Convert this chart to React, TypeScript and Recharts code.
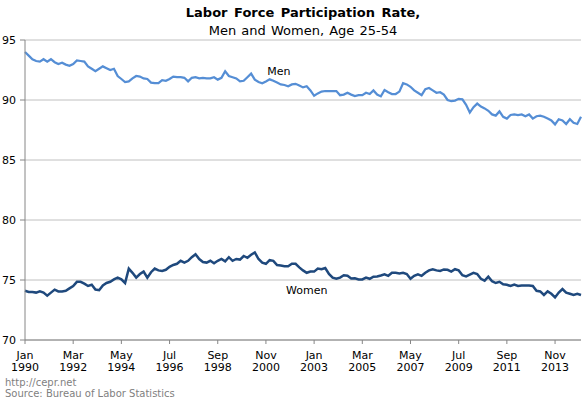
import { LineChart, Line, XAxis, YAxis, CartesianGrid, ReferenceDot } from 'recharts';

// bimonthly readings, Jan 1990 .. Jan 2015 (step = 2 months)
const men = [
  94.0, 93.7, 93.4, 93.25, 93.2, 93.4, 93.2, 93.4, 93.15, 93.0,
  93.1, 92.95, 92.85, 93.0, 93.3, 93.25, 93.2, 92.8, 92.6, 92.4,
  92.6, 92.8, 92.65, 92.5, 92.6, 92.0, 91.75, 91.5, 91.55, 91.8,
  92.0, 91.95, 91.8, 91.75, 91.45, 91.4, 91.4, 91.65, 91.6, 91.75,
  91.95, 91.9, 91.9, 91.85, 91.55, 91.85, 91.9, 91.8, 91.85, 91.8,
  91.8, 91.9, 91.7, 91.85, 92.4, 92.0, 91.9, 91.8, 91.55, 91.6,
  91.9, 92.2, 91.7, 91.5, 91.4, 91.55, 91.72, 91.6, 91.45, 91.3,
  91.25, 91.15, 91.3, 91.35, 91.2, 91.05, 91.15, 90.8, 90.35, 90.55,
  90.7, 90.75, 90.75, 90.75, 90.75, 90.4, 90.45, 90.6, 90.45, 90.33,
  90.4, 90.4, 90.6, 90.5, 90.8, 90.45, 90.3, 90.83, 90.65, 90.5,
  90.5, 90.7, 91.4, 91.3, 91.1, 90.8, 90.6, 90.4, 90.9, 91.0,
  90.8, 90.6, 90.65, 90.45, 90.0, 89.9, 89.95, 90.1, 90.05, 89.6,
  88.95, 89.4, 89.7, 89.45, 89.3, 89.1, 88.8, 88.7, 89.05, 88.6,
  88.45, 88.75, 88.8, 88.75, 88.8, 88.65, 88.8, 88.45, 88.65, 88.7,
  88.6, 88.45, 88.3, 87.97, 88.4, 88.3, 88.0, 88.4, 88.1, 88.0,
  88.6,
];

const women = [
  74.1, 74.0, 74.0, 73.95, 74.05, 73.95, 73.7, 73.95, 74.2, 74.05,
  74.05, 74.1, 74.3, 74.5, 74.85, 74.85, 74.7, 74.5, 74.6, 74.2,
  74.15, 74.55, 74.75, 74.85, 75.05, 75.2, 75.05, 74.75, 75.95, 75.6,
  75.2, 75.5, 75.7, 75.2, 75.65, 75.95, 75.8, 75.75, 75.85, 76.1,
  76.25, 76.35, 76.6, 76.45, 76.6, 76.9, 77.15, 76.75, 76.5, 76.45,
  76.6, 76.4, 76.6, 76.75, 76.55, 76.9, 76.6, 76.75, 76.7, 77.0,
  76.85, 77.1, 77.3, 76.75, 76.45, 76.35, 76.65, 76.6, 76.25, 76.2,
  76.15, 76.15, 76.35, 76.35, 76.05, 75.8, 75.6, 75.7, 75.7, 75.95,
  75.9, 76.0, 75.5, 75.2, 75.1, 75.2, 75.4, 75.35, 75.12, 75.15,
  75.05, 75.05, 75.2, 75.1, 75.28, 75.3, 75.38, 75.48, 75.35, 75.6,
  75.6, 75.55, 75.6, 75.5, 75.1, 75.35, 75.48, 75.35, 75.6, 75.8,
  75.9, 75.8, 75.75, 75.88, 75.85, 75.7, 75.9, 75.8, 75.4, 75.3,
  75.45, 75.6, 75.5, 75.1, 74.95, 75.28, 74.9, 74.75, 74.85, 74.65,
  74.6, 74.5, 74.62, 74.5, 74.55, 74.55, 74.55, 74.5, 74.1, 74.05,
  73.75, 74.05, 73.85, 73.55, 73.95, 74.25, 73.95, 73.85, 73.75, 73.85,
  73.75,
];

const tickMonths = ['Jan', 'Mar', 'May', 'Jul', 'Sep', 'Nov', 'Jan', 'Mar', 'May', 'Jul', 'Sep', 'Nov'];
const tickYears = ['1990', '1992', '1994', '1996', '1998', '2000', '2003', '2005', '2007', '2009', '2011', '2013'];
const xTicks = tickMonths.map((_, i) => i * 26);
const yTicks = [70, 75, 80, 85, 90, 95];

const data = men.map((m, i) => ({ month: i * 2, men: m, women: women[i] }));

const FONT = '"DejaVu Sans", Verdana, sans-serif';

const MonthTick = ({ x, y, payload }: any) => {
  const i = xTicks.indexOf(payload.value);
  return (
    <text x={x} y={y} textAnchor="middle" fontSize={11} fill="#000" fontFamily={FONT}>
      <tspan x={x} dy={13}>{tickMonths[i]}</tspan>
      <tspan x={x} dy={12}>{tickYears[i]}</tspan>
    </text>
  );
};

export default function App() {
  return (
    <div style={{ position: 'absolute', left: 0, top: 0, width: 588, height: 402, background: '#fff', fontFamily: FONT }}>
      <div style={{ position: 'absolute', left: 25, width: 556, top: 5, textAlign: 'center', fontSize: 13, fontWeight: 'bold', lineHeight: '16px', wordSpacing: 2 }}>
        Labor Force Participation Rate,
      </div>
      <div style={{ position: 'absolute', left: 25, width: 556, top: 23, textAlign: 'center', fontSize: 13, lineHeight: '16px', wordSpacing: 1 }}>
        Men and Women, Age 25-54
      </div>
      <LineChart width={588} height={402} data={data} margin={{ top: 40, right: 7, bottom: 22, left: 0 }}>
        <CartesianGrid vertical={false} stroke="#c0c0c0" />
        <XAxis
          dataKey="month"
          type="number"
          domain={[0, 300]}
          ticks={xTicks}
          interval={0}
          tick={<MonthTick />}
          tickSize={4}
          tickMargin={2}
          height={40}
          axisLine={{ stroke: '#868686' }}
          tickLine={{ stroke: '#868686' }}
        />
        <YAxis
          domain={[70, 95]}
          ticks={yTicks}
          width={25}
          tickSize={5}
          tickMargin={4}
          axisLine={{ stroke: '#868686' }}
          tickLine={{ stroke: '#868686' }}
          tick={{ fontSize: 11, fill: '#000', fontFamily: FONT }}
        />
        <Line dataKey="men" stroke="#558ed5" strokeWidth={2.25} dot={false} isAnimationActive={false} />
        <Line dataKey="women" stroke="#1f497d" strokeWidth={2.5} dot={false} isAnimationActive={false} />
        <ReferenceDot x={137} y={92.45} r={0} fill="none" stroke="none"
          label={{ value: 'Men', position: 'center', fontSize: 11, fill: '#000', fontFamily: FONT }} />
        <ReferenceDot x={152} y={74.2} r={0} fill="none" stroke="none"
          label={{ value: 'Women', position: 'center', fontSize: 11, fill: '#000', fontFamily: FONT }} />
      </LineChart>
      <div style={{ position: 'absolute', left: 5, top: 377, fontSize: 10, lineHeight: '12px', color: '#7f7f7f' }}>
        http://cepr.net
      </div>
      <div style={{ position: 'absolute', left: 5, top: 388, fontSize: 10, lineHeight: '12px', color: '#7f7f7f' }}>
        Source: Bureau of Labor Statistics
      </div>
    </div>
  );
}
